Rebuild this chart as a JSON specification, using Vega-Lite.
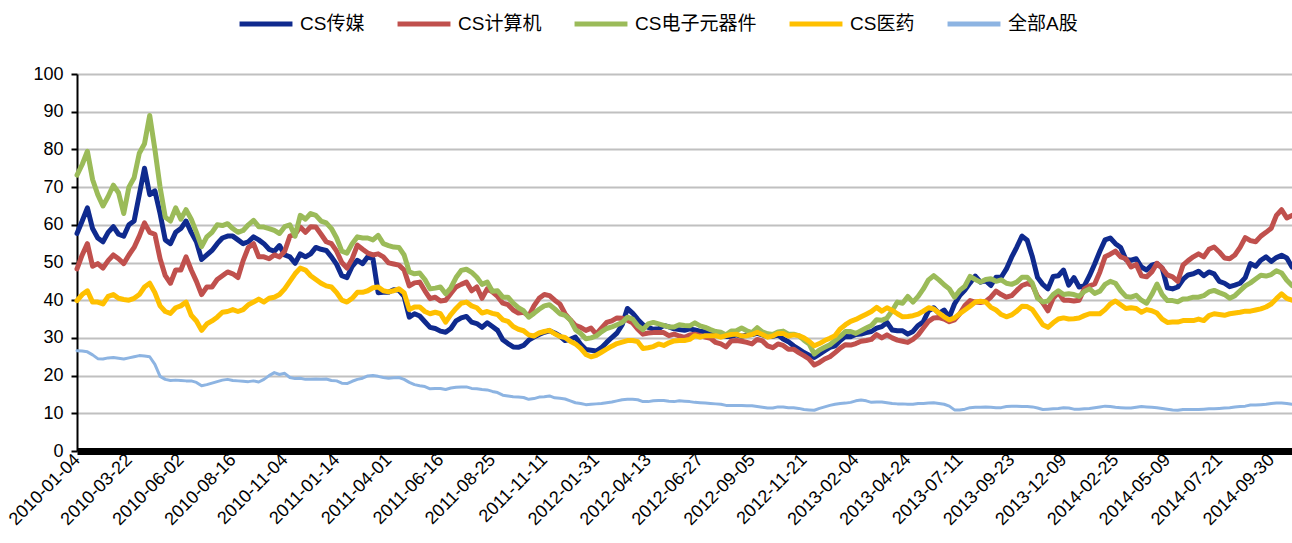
{
"$schema":"https://vega.github.io/schema/vega-lite/v6.json",
"autosize":{"type":"none"},
"padding":{"left":77,"top":74,"right":0,"bottom":92},
"width":1215,"height":377,
"background":"white",
"config":{"view":{"stroke":null},"font":"Liberation Sans"},
"data":{"values":[
{"i":0,"a":57.7,"b":48.3,"c":73.2,"d":39.9,"e":26.6},
{"i":5,"a":61,"b":52,"c":76,"d":41.5,"e":26.5},
{"i":10,"a":64.5,"b":55,"c":79.5,"d":42.5,"e":26.3},
{"i":15,"a":59,"b":49,"c":72,"d":39.5,"e":25.5},
{"i":20,"a":56.5,"b":49.7,"c":68,"d":39.5,"e":24.5},
{"i":25,"a":55.5,"b":48.5,"c":65,"d":39,"e":24.4},
{"i":30,"a":58,"b":50.5,"c":67.5,"d":41,"e":24.7},
{"i":35,"a":59.5,"b":52,"c":70.5,"d":41.5,"e":24.8},
{"i":40,"a":57.5,"b":51,"c":68.5,"d":40.5,"e":24.6},
{"i":45,"a":57,"b":49.7,"c":63,"d":40.2,"e":24.4},
{"i":50,"a":60,"b":52,"c":70,"d":40,"e":24.7},
{"i":55,"a":61,"b":54,"c":72.5,"d":40.5,"e":25},
{"i":60,"a":68,"b":57,"c":79,"d":41.5,"e":25.3},
{"i":65,"a":75,"b":60.5,"c":81.5,"d":43.5,"e":25.2},
{"i":70,"a":68,"b":58,"c":89,"d":44.5,"e":25},
{"i":75,"a":69,"b":57.5,"c":80,"d":42,"e":23},
{"i":80,"a":63,"b":51,"c":70,"d":38.5,"e":19.8},
{"i":85,"a":56,"b":46.5,"c":62,"d":37,"e":19},
{"i":90,"a":55,"b":44.5,"c":61,"d":36.5,"e":18.7},
{"i":95,"a":58,"b":48,"c":64.5,"d":38,"e":18.8},
{"i":100,"a":59,"b":48,"c":61.5,"d":38.5,"e":18.7},
{"i":105,"a":61,"b":51.5,"c":64,"d":39.5,"e":18.6},
{"i":110,"a":58,"b":48,"c":61.5,"d":36,"e":18.6},
{"i":115,"a":55.5,"b":45,"c":58,"d":34.5,"e":18.2},
{"i":120,"a":50.8,"b":41.5,"c":54.2,"d":32,"e":17.3},
{"i":125,"a":52,"b":43.5,"c":56.8,"d":33.7,"e":17.6},
{"i":130,"a":53.2,"b":43.5,"c":58,"d":34.5,"e":18},
{"i":135,"a":55,"b":45.5,"c":60,"d":35.5,"e":18.4},
{"i":140,"a":56.5,"b":46.5,"c":59.8,"d":36.8,"e":18.8},
{"i":145,"a":57,"b":47.5,"c":60.3,"d":37,"e":19},
{"i":150,"a":57,"b":47,"c":59,"d":37.5,"e":18.7},
{"i":155,"a":56,"b":46,"c":58,"d":37,"e":18.6},
{"i":160,"a":55,"b":50.5,"c":58.5,"d":37.5,"e":18.5},
{"i":165,"a":55.5,"b":54,"c":60,"d":38.8,"e":18.4},
{"i":170,"a":56.8,"b":55,"c":61.2,"d":39.5,"e":18.6},
{"i":175,"a":56,"b":51.5,"c":59.5,"d":40.3,"e":18.3},
{"i":180,"a":55,"b":51.5,"c":59.4,"d":39.5,"e":19},
{"i":185,"a":53.5,"b":51,"c":59,"d":40.5,"e":20},
{"i":190,"a":53,"b":52,"c":58.5,"d":40.8,"e":20.8},
{"i":195,"a":54.5,"b":51.5,"c":57.7,"d":41.5,"e":20.3},
{"i":200,"a":52,"b":53,"c":59.5,"d":43,"e":20.6},
{"i":205,"a":51.5,"b":57,"c":60,"d":45,"e":19.5},
{"i":210,"a":49.8,"b":57.5,"c":57,"d":47,"e":19.2},
{"i":215,"a":52.3,"b":59.4,"c":62.5,"d":48.5,"e":19.3},
{"i":220,"a":51.5,"b":58,"c":61.5,"d":48,"e":19},
{"i":225,"a":52.3,"b":59.5,"c":63,"d":46.5,"e":19},
{"i":230,"a":54,"b":59.4,"c":62.5,"d":45.5,"e":19.1},
{"i":235,"a":53.5,"b":57.5,"c":61,"d":44.5,"e":19},
{"i":240,"a":53.2,"b":55.5,"c":60.5,"d":43.8,"e":19.1},
{"i":245,"a":51.5,"b":55,"c":59,"d":43.5,"e":18.7},
{"i":250,"a":49.5,"b":53,"c":56.5,"d":42,"e":18.6},
{"i":255,"a":46.5,"b":50,"c":53,"d":40,"e":18},
{"i":260,"a":46,"b":48.5,"c":52.5,"d":39.5,"e":17.9},
{"i":265,"a":49,"b":51,"c":55,"d":40.5,"e":18.5},
{"i":270,"a":50.6,"b":54.6,"c":56.8,"d":42.1,"e":19},
{"i":275,"a":49.7,"b":53.5,"c":56.5,"d":42.1,"e":19.3},
{"i":280,"a":51.5,"b":52.5,"c":56.5,"d":42.5,"e":19.9},
{"i":285,"a":51,"b":52,"c":56,"d":43.3,"e":20},
{"i":290,"a":42,"b":52.3,"c":57.2,"d":43.5,"e":19.8},
{"i":295,"a":42.1,"b":51.5,"c":55,"d":42.5,"e":19.5},
{"i":300,"a":42.1,"b":49.9,"c":54.5,"d":42.2,"e":19.3},
{"i":305,"a":42.8,"b":49.6,"c":54.1,"d":42.5,"e":19.4},
{"i":310,"a":42.6,"b":49.3,"c":54,"d":43,"e":19.5},
{"i":315,"a":41,"b":48,"c":52,"d":42,"e":19},
{"i":320,"a":35.5,"b":43.8,"c":47.5,"d":37.5,"e":18.2},
{"i":325,"a":36.4,"b":44.6,"c":47,"d":38.2,"e":17.6},
{"i":330,"a":35.8,"b":44.8,"c":47.2,"d":38.2,"e":17.3},
{"i":335,"a":34.3,"b":42.5,"c":45.5,"d":37,"e":17.1},
{"i":340,"a":32.8,"b":40.4,"c":43,"d":36.4,"e":16.5},
{"i":345,"a":32.5,"b":40.8,"c":43.2,"d":36.8,"e":16.6},
{"i":350,"a":31.8,"b":39.8,"c":43.5,"d":36.4,"e":16.6},
{"i":355,"a":31.5,"b":40,"c":41.7,"d":34.2,"e":16.3},
{"i":360,"a":32.5,"b":41.8,"c":43.3,"d":36.2,"e":16.7},
{"i":365,"a":34.5,"b":43.5,"c":46,"d":37.8,"e":16.9},
{"i":370,"a":35.3,"b":44.2,"c":47.9,"d":39.2,"e":17},
{"i":375,"a":35.7,"b":44.8,"c":48.2,"d":39.5,"e":17},
{"i":380,"a":34.2,"b":42.5,"c":47.4,"d":38.5,"e":16.6},
{"i":385,"a":33.8,"b":43.5,"c":46.1,"d":38,"e":16.5},
{"i":390,"a":32.8,"b":40.5,"c":44.2,"d":36.6,"e":16.3},
{"i":395,"a":34,"b":43,"c":44.8,"d":37,"e":16.2},
{"i":400,"a":33,"b":42.2,"c":42.4,"d":36.5,"e":15.8},
{"i":405,"a":32,"b":41,"c":42.5,"d":36.2,"e":15.5},
{"i":410,"a":29.5,"b":39.2,"c":40.8,"d":34.8,"e":14.8},
{"i":415,"a":28.5,"b":38.8,"c":40.8,"d":34.4,"e":14.6},
{"i":420,"a":27.6,"b":37.4,"c":39.2,"d":33,"e":14.4},
{"i":425,"a":27.5,"b":36.6,"c":38,"d":32.3,"e":14.3},
{"i":430,"a":28,"b":36.8,"c":37.2,"d":31.9,"e":14.2},
{"i":435,"a":29.4,"b":35.8,"c":35.5,"d":30.8,"e":13.7},
{"i":440,"a":30.2,"b":38.5,"c":36.5,"d":30.5,"e":13.9},
{"i":445,"a":30.9,"b":40.5,"c":37.6,"d":31.3,"e":14.3},
{"i":450,"a":31.5,"b":41.5,"c":38.5,"d":31.7,"e":14.4},
{"i":455,"a":31.9,"b":41.2,"c":38.8,"d":32,"e":14.6},
{"i":460,"a":31.3,"b":40,"c":37.7,"d":31.1,"e":14.1},
{"i":465,"a":30.5,"b":39,"c":36.4,"d":30.4,"e":14},
{"i":470,"a":29.3,"b":36.4,"c":36,"d":30.1,"e":13.8},
{"i":475,"a":29.6,"b":34.8,"c":34.8,"d":29.1,"e":13.3},
{"i":480,"a":30.2,"b":33.3,"c":32.2,"d":28.4,"e":12.8},
{"i":485,"a":28.3,"b":32.8,"c":31.2,"d":27.2,"e":12.6},
{"i":490,"a":26.9,"b":32,"c":29.8,"d":25.6,"e":12.3},
{"i":495,"a":26.7,"b":32.6,"c":30,"d":25,"e":12.4},
{"i":500,"a":26.5,"b":31,"c":30.5,"d":25.4,"e":12.5},
{"i":505,"a":27.4,"b":32.6,"c":31.6,"d":26.2,"e":12.6},
{"i":510,"a":28.8,"b":34.1,"c":32.5,"d":27,"e":12.8},
{"i":515,"a":30.1,"b":34.5,"c":32.9,"d":27.8,"e":13},
{"i":520,"a":31.3,"b":35.3,"c":33.5,"d":28.5,"e":13.3},
{"i":525,"a":33.5,"b":35.2,"c":34.1,"d":28.9,"e":13.6},
{"i":530,"a":37.8,"b":34.7,"c":35.5,"d":29.3,"e":13.7},
{"i":535,"a":36.6,"b":34,"c":35,"d":29.3,"e":13.7},
{"i":540,"a":34.9,"b":32.3,"c":33.2,"d":29,"e":13.6},
{"i":545,"a":33.5,"b":31,"c":32.2,"d":27.2,"e":13.1},
{"i":550,"a":32.8,"b":31.3,"c":33.7,"d":27.4,"e":13.1},
{"i":555,"a":32.3,"b":31.4,"c":34.1,"d":27.7,"e":13.3},
{"i":560,"a":32.4,"b":31.4,"c":33.7,"d":28.4,"e":13.4},
{"i":565,"a":33.3,"b":31.4,"c":33.3,"d":28,"e":13.4},
{"i":570,"a":32.9,"b":30.6,"c":32.9,"d":28.7,"e":13.2},
{"i":575,"a":32.4,"b":31,"c":32.9,"d":29.2,"e":13.1},
{"i":580,"a":32.2,"b":30.5,"c":33.5,"d":29.3,"e":13.3},
{"i":585,"a":32,"b":30.1,"c":33.3,"d":29.3,"e":13.2},
{"i":590,"a":32.4,"b":30.8,"c":33.2,"d":29.6,"e":13.1},
{"i":595,"a":32.1,"b":31,"c":34,"d":30.6,"e":12.9},
{"i":600,"a":31.8,"b":30.6,"c":33.2,"d":30.2,"e":12.8},
{"i":605,"a":31.6,"b":30.2,"c":32.8,"d":30.6,"e":12.7},
{"i":610,"a":31.2,"b":29.9,"c":32.2,"d":30.6,"e":12.6},
{"i":615,"a":30.8,"b":28.8,"c":31.7,"d":30.6,"e":12.5},
{"i":620,"a":30.7,"b":28.4,"c":31.5,"d":30.2,"e":12.4},
{"i":625,"a":30.4,"b":27.6,"c":30.8,"d":30.6,"e":12.1},
{"i":630,"a":30.4,"b":29.2,"c":31.8,"d":30.9,"e":12.1},
{"i":635,"a":30.8,"b":29.3,"c":31.9,"d":31,"e":12.1},
{"i":640,"a":30.4,"b":29.1,"c":32.6,"d":30.5,"e":12.1},
{"i":645,"a":30.8,"b":28.8,"c":31.9,"d":30.6,"e":12},
{"i":650,"a":30.9,"b":28.4,"c":31.4,"d":30.9,"e":12},
{"i":655,"a":31.2,"b":29.6,"c":32.7,"d":31.5,"e":11.8},
{"i":660,"a":30.8,"b":29.2,"c":31.6,"d":30.9,"e":11.6},
{"i":665,"a":30.4,"b":27.9,"c":31.1,"d":30.2,"e":11.4},
{"i":670,"a":30.4,"b":27.4,"c":30.9,"d":30.5,"e":11.4},
{"i":675,"a":30.8,"b":28.4,"c":31.6,"d":31.2,"e":11.7},
{"i":680,"a":29.7,"b":28,"c":31.8,"d":31.2,"e":11.7},
{"i":685,"a":29,"b":27,"c":31,"d":30.5,"e":11.5},
{"i":690,"a":27.9,"b":27,"c":31,"d":30.8,"e":11.5},
{"i":695,"a":27,"b":26.1,"c":30.6,"d":30.6,"e":11.3},
{"i":700,"a":26.1,"b":25.3,"c":29.4,"d":30,"e":11},
{"i":705,"a":25.4,"b":24.4,"c":28.4,"d":29.1,"e":10.9},
{"i":710,"a":24.8,"b":22.8,"c":25.7,"d":27.9,"e":10.8},
{"i":715,"a":25.7,"b":23.5,"c":26.8,"d":28.5,"e":11.3},
{"i":720,"a":26.6,"b":24.4,"c":27.5,"d":29.3,"e":11.7},
{"i":725,"a":27.5,"b":25,"c":28.2,"d":29.9,"e":12.1},
{"i":730,"a":27.9,"b":26.1,"c":29.3,"d":30.6,"e":12.4},
{"i":735,"a":29.3,"b":27.3,"c":30.4,"d":32.4,"e":12.6},
{"i":740,"a":30.4,"b":28.2,"c":31.7,"d":33.5,"e":12.7},
{"i":745,"a":30.3,"b":28.1,"c":31.7,"d":34.4,"e":12.9},
{"i":750,"a":30.9,"b":28.5,"c":31.2,"d":34.9,"e":13.3},
{"i":755,"a":31,"b":29.1,"c":31.9,"d":35.6,"e":13.5},
{"i":760,"a":31.4,"b":29.3,"c":32.6,"d":36.3,"e":13.3},
{"i":765,"a":31.7,"b":29.6,"c":33.3,"d":37,"e":12.9},
{"i":770,"a":32.6,"b":30.9,"c":34.8,"d":38.1,"e":13},
{"i":775,"a":33,"b":30,"c":34.7,"d":37.1,"e":13},
{"i":780,"a":34.1,"b":30.8,"c":35.3,"d":38,"e":12.8},
{"i":785,"a":32.1,"b":30,"c":37.2,"d":37.3,"e":12.6},
{"i":790,"a":31.9,"b":29.4,"c":39.5,"d":36.4,"e":12.5},
{"i":795,"a":31.9,"b":29.1,"c":39.2,"d":35.6,"e":12.5},
{"i":800,"a":31,"b":28.8,"c":41,"d":35.7,"e":12.4},
{"i":805,"a":31.7,"b":29.6,"c":39.5,"d":35.9,"e":12.4},
{"i":810,"a":33.3,"b":30.8,"c":41,"d":36.3,"e":12.6},
{"i":815,"a":34.3,"b":32.6,"c":43,"d":37.1,"e":12.6},
{"i":820,"a":37.2,"b":34.4,"c":45.4,"d":38,"e":12.7},
{"i":825,"a":38,"b":35.3,"c":46.5,"d":37.7,"e":12.8},
{"i":830,"a":36.5,"b":35.4,"c":45.4,"d":36.6,"e":12.6},
{"i":835,"a":37.4,"b":35,"c":44.1,"d":35.6,"e":12.4},
{"i":840,"a":35.5,"b":34.3,"c":43,"d":34.8,"e":11.9},
{"i":845,"a":39,"b":34.8,"c":40.8,"d":35.3,"e":10.9},
{"i":850,"a":41.2,"b":36.4,"c":42.6,"d":36.4,"e":10.9},
{"i":855,"a":42.7,"b":38.6,"c":43.7,"d":37.4,"e":11.1},
{"i":860,"a":44.6,"b":39.9,"c":46.3,"d":38.4,"e":11.5},
{"i":865,"a":46.4,"b":39.5,"c":45.5,"d":39.5,"e":11.6},
{"i":870,"a":44.8,"b":39.4,"c":44.8,"d":39.7,"e":11.6},
{"i":875,"a":45.2,"b":39.7,"c":45.5,"d":39.5,"e":11.7},
{"i":880,"a":43.9,"b":40.8,"c":45.7,"d":38.1,"e":11.6},
{"i":885,"a":46.1,"b":42.4,"c":45,"d":37.4,"e":11.5},
{"i":890,"a":46.1,"b":41.5,"c":45.4,"d":36.2,"e":11.5},
{"i":895,"a":48.3,"b":40.8,"c":44.5,"d":35.6,"e":11.8},
{"i":900,"a":51.4,"b":41.2,"c":44.2,"d":36.1,"e":11.9},
{"i":905,"a":54.1,"b":42.6,"c":44.8,"d":37.1,"e":11.9},
{"i":910,"a":57,"b":43.9,"c":46.1,"d":38.4,"e":11.8},
{"i":915,"a":55.9,"b":44.4,"c":46.1,"d":38.3,"e":11.8},
{"i":920,"a":51.5,"b":44,"c":44.5,"d":37.5,"e":11.7},
{"i":925,"a":46,"b":41,"c":40.5,"d":35.5,"e":11.4},
{"i":930,"a":44.2,"b":39.3,"c":39.5,"d":33.5,"e":11},
{"i":935,"a":43,"b":37.2,"c":39.8,"d":32.8,"e":11.1},
{"i":940,"a":46.3,"b":40.5,"c":41.5,"d":34,"e":11.2},
{"i":945,"a":46.5,"b":42,"c":42.5,"d":35,"e":11.3},
{"i":950,"a":48,"b":40,"c":41.5,"d":35.3,"e":11.5},
{"i":955,"a":44,"b":40,"c":41.7,"d":35,"e":11.4},
{"i":960,"a":46,"b":39.8,"c":41.5,"d":35.1,"e":11.1},
{"i":965,"a":43.5,"b":40,"c":41,"d":35.3,"e":11.1},
{"i":970,"a":43.8,"b":43,"c":42.3,"d":35.9,"e":11.2},
{"i":975,"a":46.5,"b":43.8,"c":43,"d":36.4,"e":11.3},
{"i":980,"a":49.6,"b":44.3,"c":41.8,"d":36.4,"e":11.5},
{"i":985,"a":53,"b":47.5,"c":42.4,"d":36.4,"e":11.7},
{"i":990,"a":56,"b":51.5,"c":44.2,"d":37.5,"e":11.9},
{"i":995,"a":56.5,"b":52.2,"c":45,"d":39,"e":11.8},
{"i":1000,"a":55,"b":53,"c":44.5,"d":39.8,"e":11.6},
{"i":1005,"a":54,"b":51.5,"c":42.5,"d":38.8,"e":11.5},
{"i":1010,"a":50.8,"b":51,"c":41,"d":37.8,"e":11.4},
{"i":1015,"a":50.6,"b":48.8,"c":40.8,"d":38,"e":11.4},
{"i":1020,"a":51,"b":49.5,"c":41.3,"d":37.8,"e":11.6},
{"i":1025,"a":48.8,"b":46.5,"c":40,"d":36.8,"e":11.8},
{"i":1030,"a":48,"b":46.2,"c":39.2,"d":37.5,"e":11.7},
{"i":1035,"a":49.3,"b":47.5,"c":41.5,"d":37.2,"e":11.6},
{"i":1040,"a":49.7,"b":49.8,"c":44.3,"d":36.6,"e":11.5},
{"i":1045,"a":48.5,"b":48.5,"c":41.5,"d":35,"e":11.3},
{"i":1050,"a":43.3,"b":46.7,"c":39.9,"d":34.1,"e":11.1},
{"i":1055,"a":43,"b":46.2,"c":39.9,"d":34.2,"e":10.9},
{"i":1060,"a":43.5,"b":45,"c":39.6,"d":34.2,"e":10.8},
{"i":1065,"a":45.5,"b":49.3,"c":40.3,"d":34.6,"e":11},
{"i":1070,"a":46.7,"b":50.5,"c":40.4,"d":34.6,"e":11},
{"i":1075,"a":47,"b":51.5,"c":40.8,"d":34.6,"e":11},
{"i":1080,"a":47.7,"b":52.3,"c":40.8,"d":35,"e":11},
{"i":1085,"a":46.5,"b":51.5,"c":41.2,"d":34.6,"e":11.1},
{"i":1090,"a":47.5,"b":53.5,"c":42.2,"d":35.9,"e":11.2},
{"i":1095,"a":47,"b":54.1,"c":42.6,"d":36.4,"e":11.2},
{"i":1100,"a":45,"b":52.8,"c":42,"d":36.2,"e":11.3},
{"i":1105,"a":44.5,"b":51.2,"c":41.5,"d":36,"e":11.4},
{"i":1110,"a":43.6,"b":51,"c":40.5,"d":36.4,"e":11.5},
{"i":1115,"a":44,"b":52,"c":41.2,"d":36.6,"e":11.7},
{"i":1120,"a":44.5,"b":54,"c":42.5,"d":36.8,"e":11.8},
{"i":1125,"a":46,"b":56.6,"c":43.8,"d":37.1,"e":11.9},
{"i":1130,"a":49.7,"b":55.8,"c":44.6,"d":37.1,"e":12.2},
{"i":1135,"a":49,"b":55.5,"c":45.6,"d":37.4,"e":12.2},
{"i":1140,"a":50.6,"b":57,"c":46.6,"d":37.7,"e":12.3},
{"i":1145,"a":51.5,"b":58,"c":46.4,"d":38.2,"e":12.4},
{"i":1150,"a":50.3,"b":59.1,"c":46.8,"d":39,"e":12.6},
{"i":1155,"a":51.3,"b":62.5,"c":47.8,"d":40.4,"e":12.7},
{"i":1160,"a":51.9,"b":64,"c":47.2,"d":41.7,"e":12.7},
{"i":1165,"a":51.2,"b":61.8,"c":45.3,"d":40.5,"e":12.6},
{"i":1170,"a":48.8,"b":62.5,"c":43.9,"d":40,"e":12.4}
]},
"encoding":{
"x":{"field":"i","type":"quantitative","scale":{"domain":[0,1170],"nice":false,"zero":false},
"axis":{"title":null,"values":[0,50,100,150,200,250,300,350,400,450,500,550,600,650,700,750,800,850,900,950,1000,1050,1100,1150],
"labelExpr":"['2010-01-04','2010-03-22','2010-06-02','2010-08-16','2010-11-04','2011-01-14','2011-04-01','2011-06-16','2011-08-25','2011-11-11','2012-01-31','2012-04-13','2012-06-27','2012-09-05','2012-11-21','2013-02-04','2013-04-24','2013-07-11','2013-09-23','2013-12-09','2014-02-25','2014-05-09','2014-07-21','2014-09-30'][round(datum.value/50)]",
"labelAngle":-45,"labelAlign":"right","labelBaseline":"middle","labelFontSize":18,"labelColor":"black","labelFont":"Liberation Sans","labelPadding":6,"labelOverlap":false,"labelBound":false,"labelFlush":false,
"ticks":false,"grid":false,"domainColor":"black","domainWidth":7}},
"y":{"field":"v","type":"quantitative","scale":{"domain":[0,100],"nice":false},
"axis":{"title":null,"values":[0,10,20,30,40,50,60,70,80,90,100],"grid":true,"gridColor":"#c0c0c0","gridWidth":2,
"domainColor":"black","domainWidth":2,"tickColor":"black","tickSize":6,"tickWidth":2,
"labelFontSize":18,"labelColor":"black","labelFont":"Liberation Sans","labelPadding":8,"labelOverlap":false}},
"color":{"field":"s","type":"nominal",
"scale":{"domain":["a","b","c","d","e"],"range":["#0f2a8e","#c0504d","#9bbb59","#ffc000","#8db4e2"]},
"legend":{"title":null,"orient":"none","legendX":160,"legendY":-79,"direction":"horizontal","columns":5,
"symbolType":"stroke","symbolSize":2800,"symbolStrokeWidth":5,"labelFontSize":19,"labelColor":"black",
"labelFont":"Liberation Sans, Noto Sans CJK SC","labelOffset":5,"columnPadding":22,
"labelExpr":"datum.label=='a'?'CS传媒':datum.label=='b'?'CS计算机':datum.label=='c'?'CS电子元器件':datum.label=='d'?'CS医药':'全部A股'"}}
},
"layer":[
{"transform":[{"fold":["a","b","c","d"],"as":["s","v"]}],
 "mark":{"type":"line","strokeWidth":5,"strokeJoin":"round","strokeCap":"round"}},
{"transform":[{"fold":["e"],"as":["s","v"]}],
 "mark":{"type":"line","strokeWidth":3,"strokeJoin":"round","strokeCap":"round"}}
]
}
